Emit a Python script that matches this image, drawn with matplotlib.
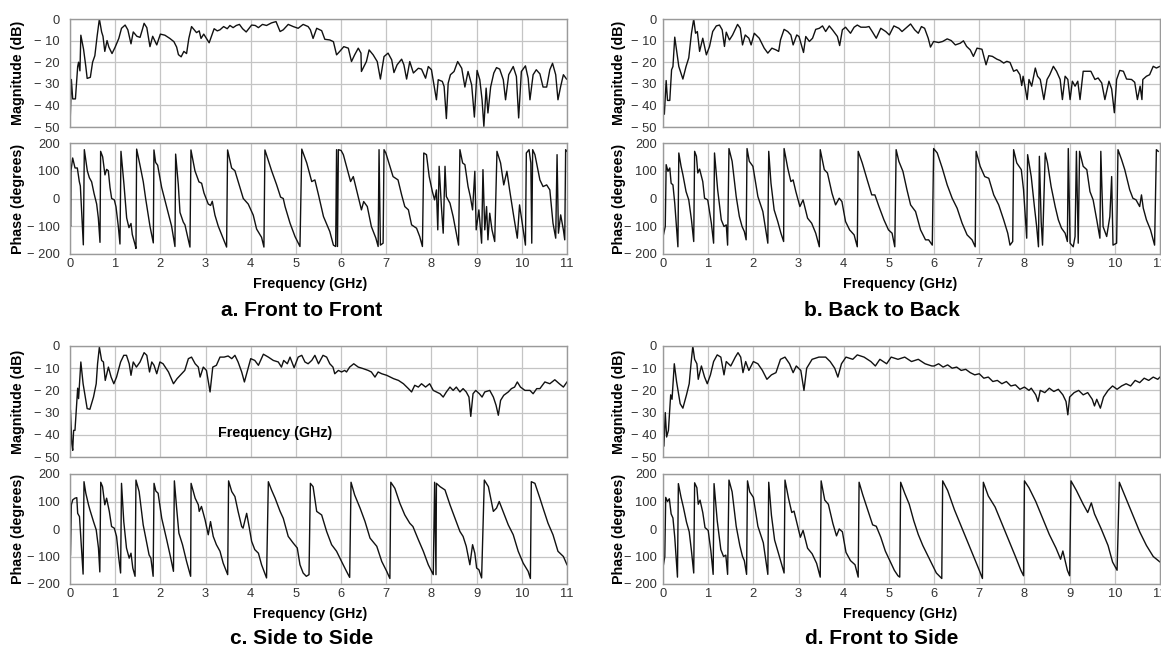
import numpy as np
import matplotlib
matplotlib.use('Agg')
import matplotlib.pyplot as plt

# ---- panel a: front to front ----
a_mag_f = [0.00, 0.03, 0.06, 0.12, 0.17, 0.19, 0.22, 0.24, 0.30, 0.35, 0.38, 0.45, 0.50, 0.55, 0.60, 0.65,
           0.70, 0.73, 0.77, 0.82, 0.86, 0.93, 1.00, 1.08, 1.14, 1.22, 1.28, 1.35, 1.40, 1.48, 1.55, 1.60,
           1.64, 1.70, 1.77, 1.83, 1.92, 2.00, 2.10, 2.21, 2.30, 2.36, 2.40, 2.46, 2.52, 2.58, 2.63, 2.69,
           2.75, 2.80, 2.86, 2.90, 2.96, 3.02, 3.08, 3.19, 3.26, 3.32, 3.40, 3.48, 3.54, 3.61, 3.68, 3.75,
           3.82, 3.90, 4.02, 4.10, 4.17, 4.26, 4.35, 4.46, 4.56, 4.65, 4.72, 4.83, 4.94, 5.05, 5.16, 5.27,
           5.32, 5.38, 5.46, 5.57, 5.64, 5.75, 5.83, 5.90, 5.97, 6.06, 6.16, 6.23, 6.30, 6.38, 6.44, 6.45,
           6.56, 6.62, 6.71, 6.80, 6.87, 6.95, 7.04, 7.12, 7.17, 7.24, 7.34, 7.39, 7.45, 7.52, 7.60, 7.71,
           7.78, 7.87, 7.93, 8.00, 8.06, 8.11, 8.15, 8.24, 8.28, 8.33, 8.37, 8.42, 8.50, 8.58, 8.67, 8.74,
           8.81, 8.89, 8.95, 9.01, 9.07, 9.12, 9.16, 9.21, 9.25, 9.31, 9.38, 9.44, 9.51, 9.59, 9.64, 9.71,
           9.81, 9.88, 9.93, 9.99, 10.08, 10.14, 10.18, 10.25, 10.32, 10.40, 10.47, 10.55, 10.62, 10.68,
           10.75, 10.80, 10.86, 10.92, 10.99]
a_mag_db = [-50, -28, -37, -37, -22, -20, -24, -7.5, -14, -22, -27.5, -27, -20, -17, -8, 0,
            -6, -8, -15, -10, -13, -16, -13, -9, -4.3, -2.8, -5, -11.5, -6, -8, -8.5, -5,
            -2, -4, -12.8, -8, -12, -7, -7.5, -9, -10.5, -13, -16.5, -17.5, -15, -16, -9, -3.5,
            -5, -6.3, -5.5, -9, -7, -9, -11, -4.5, -5.5, -5, -3.5, -4.5, -3, -4, -3, -2.5,
            -4.5, -6, -2.8, -3, -4, -2.5, -3, -1.8, -1.2, -5.8, -5, -2.5, -3.5, -4.3, -2.5, -3.5,
            -5, -9, -4.3, -5.4, -9.4, -9.7, -10.5, -16.6, -15, -12.8, -13.5, -19.7, -16.6, -13.5, -15.8, -24.3,
            -19.7, -14.3, -16.6, -19.7, -27.8, -17.4, -15.8, -18.9, -24.8, -21.2, -18.6, -21.2, -27.8, -19.7, -25, -22.8,
            -23.2, -27.4, -22, -23.5, -31.2, -37.4, -28.1, -28.9, -31.2, -46.1, -29.7, -25.8, -24.3, -19.7, -22.8, -31.5,
            -24.3, -30.5, -45.4, -23.8, -28.1, -37.4, -49.7, -32, -43.5, -31.5, -25, -22.5, -23.2, -28.1, -37.4, -25.8,
            -22, -26.6, -45.8, -24.3, -21.7, -27.4, -37.4, -25.8, -23.5, -25.4, -31.5, -31.5, -23.5, -20.5,
            -25.8, -37.4, -31.2, -25.8, -27.8]

a_ph_f = [0.00, 0.015, 0.022, 0.059, 0.111, 0.162, 0.206, 0.229, 0.295, 0.317, 0.383, 0.428, 0.479, 0.531,
          0.590, 0.627, 0.664, 0.678, 0.723, 0.774, 0.811, 0.848, 0.885, 0.922, 0.981, 1.018, 1.069, 1.106,
          1.128, 1.195, 1.254, 1.305, 1.350, 1.379, 1.438, 1.460, 1.475, 1.549, 1.622, 1.674, 1.733, 1.770,
          1.807, 1.844, 1.858, 1.895, 1.940, 2.028, 2.139, 2.249, 2.323, 2.338, 2.397, 2.434, 2.507, 2.544,
          2.655, 2.677, 2.765, 2.854, 2.913, 2.965, 3.060, 3.112, 3.149, 3.208, 3.282, 3.355, 3.466, 3.488,
          3.577, 3.650, 3.761, 3.835, 3.945, 4.056, 4.130, 4.240, 4.292, 4.314, 4.462, 4.572, 4.661, 4.720,
          4.76, 4.87, 4.98, 5.09, 5.13, 5.24, 5.35, 5.42, 5.50, 5.61, 5.75, 5.83, 5.88, 5.90, 5.92, 5.94,
          6.00, 6.05, 6.12, 6.21, 6.27, 6.36, 6.45, 6.50, 6.58, 6.67, 6.77, 6.82, 6.84, 6.87, 6.93, 6.95,
          6.99, 7.08, 7.15, 7.26, 7.34, 7.41, 7.49, 7.56, 7.67, 7.74, 7.80, 7.83, 7.89, 7.95, 8.02, 8.07,
          8.11, 8.14, 8.17, 8.22, 8.26, 8.30, 8.33, 8.41, 8.48, 8.55, 8.60, 8.63, 8.69, 8.74, 8.81, 8.86,
          8.91, 8.96, 8.99, 9.05, 9.11, 9.14, 9.18, 9.22, 9.25, 9.29, 9.34, 9.40, 9.45, 9.53, 9.60, 9.67,
          9.73, 9.81, 9.90, 9.95, 10.01, 10.08, 10.10, 10.16, 10.20, 10.22, 10.24, 10.29, 10.34, 10.40,
          10.47, 10.55, 10.62, 10.69, 10.75, 10.78, 10.81, 10.86, 10.92, 10.95, 10.97, 11.0]
a_ph_deg = [-95, -100, 100, 146, 110, 110, 61, 45, -167, 176, 100, 75, 60, 19,
            -20, -70, -158, 170, 150, 85, 105, 100, 40, 0, -5, -30, -100, -164,
            170, 50, -70, -105, -90, -130, -165, -180, 178, 120, 60, 0, -60, -100,
            -130, -160, 175, 130, 120, 40, -30, -100, -173, 160, 50, -50, -85, -95,
            -175, 175, 100, 60, 55, 20, -20, -25, -10, -60, -100, -130, -175, 175,
            110, 100, 40, 0, -20, -60, -110, -140, -175, 175, 100, 50, 5, 0,
            -29, -89, -137, -173, 178, 128, 61, 67, 13, -65, -119, -168, -173, 176, -173, 176,
            173, 158, 116, 61, 79, 19, -41, -11, -29, -101, -143, -173, 176, -168, -161, 176,
            164, 116, 79, 67, 13, -29, -41, -95, -107, -137, -173, 164, 158, 79, 25, -5,
            31, -113, 116, -29, -125, 116, 7, -17, -65, -125, -168, 176, 128, 122, 43, 7,
            -41, 98, -113, -41, -161, 104, -113, -29, -149, -53, -113, -155, 170, 128, 49, 98,
            31, -53, -143, -23, -89, -168, 164, 176, 128, -161, 176, 158, 116, 67,
            43, 49, 31, -89, -143, 158, -125, -59, -113, -149, 176, 170]

# ---- panel b: back to back ----
b_mag_f = [0.03, 0.07, 0.10, 0.15, 0.19, 0.22, 0.26, 0.31, 0.35, 0.44, 0.51, 0.57, 0.63, 0.68, 0.72, 0.76,
           0.81, 0.88, 0.96, 1.03, 1.10, 1.18, 1.25, 1.31, 1.36, 1.40, 1.47, 1.54, 1.65, 1.71, 1.76, 1.82,
           1.90, 1.95, 2.02, 2.13, 2.24, 2.32, 2.41, 2.50, 2.56, 2.60, 2.68, 2.76, 2.83, 2.88, 2.96, 3.01,
           3.11, 3.16, 3.24, 3.31, 3.38, 3.46, 3.53, 3.60, 3.68, 3.75, 3.86, 3.91, 3.97, 4.04, 4.15, 4.23,
           4.30, 4.38, 4.49, 4.56, 4.63, 4.72, 4.82, 4.93, 5.01, 5.11, 5.22, 5.29, 5.37, 5.48, 5.57, 5.65,
           5.72, 5.79, 5.87, 5.92, 5.99, 6.10, 6.19, 6.29, 6.38, 6.47, 6.58, 6.65, 6.72, 6.80, 6.87, 6.95,
           7.06, 7.15, 7.21, 7.29, 7.39, 7.46, 7.54, 7.61, 7.68, 7.76, 7.83, 7.90, 7.94, 7.97, 8.01, 8.06,
           8.10, 8.16, 8.24, 8.29, 8.35, 8.43, 8.50, 8.56, 8.64, 8.71, 8.79, 8.84, 8.90, 8.96, 9.01, 9.06,
           9.12, 9.18, 9.23, 9.30, 9.38, 9.47, 9.56, 9.63, 9.71, 9.78, 9.87, 9.93, 9.99, 10.04, 10.11, 10.19,
           10.26, 10.37, 10.44, 10.50, 10.56, 10.60, 10.62, 10.70, 10.77, 10.85, 10.92, 11.0]
b_mag_db = [-44, -28.5, -37.7, -37.7, -23.5, -22, -8.4, -15.8, -22, -27.8, -22, -18, -6.6, 0, -6.6, -5.8,
            -15, -8.9, -16.6, -12.7, -5.8, -3.2, -2.8, -5, -12.7, -6.1, -9.7, -7.4, -2.5, -4.3, -12, -7.4,
            -8.9, -12, -6.6, -8.9, -13.5, -15.8, -13.5, -14.3, -15, -9.7, -4.8, -5.8, -7.4, -12, -7.4, -8.1,
            -15.5, -8.1, -10.4, -8.9, -4.8, -4.3, -3.2, -5.8, -3.2, -5, -8.1, -12.3, -5, -3.8, -6.6, -3.8,
            -2.8, -3.8, -3.8, -3.5, -5.8, -8.9, -4.3, -5.8, -7.4, -3.2, -4.3, -5.8, -4.3, -2.3, -5, -6.6,
            -3.5, -4.3, -8.9, -13, -10.4, -10.9, -10.4, -9.2, -10, -12, -11.2, -10.1, -12.7, -14.3, -17.3, -13.5,
            -14, -21.2, -17, -17.3, -18.6, -19.2, -20.4, -19.6, -20.1, -24.2, -23.5, -25.8, -30.8, -26.5, -31.1, -37.3,
            -28, -31.1, -22.7, -26.5, -28, -37.3, -28, -25.8, -21.9, -24.2, -28, -37.3, -26.5, -28, -37.3, -28.8,
            -31.1, -28.8, -37.3, -24.2, -24.2, -24.2, -28, -27.3, -29.6, -37.3, -28.8, -32.4, -43.4, -28, -23.8, -24.2,
            -27.8, -28, -29.3, -37.3, -31.1, -37.3, -28, -26.5, -25.8, -21.9, -22.7, -21.9]

b_ph_f = [0.01, 0.05, 0.07, 0.11, 0.15, 0.18, 0.22, 0.26, 0.33, 0.35, 0.40, 0.44, 0.51, 0.57, 0.63, 0.68,
          0.70, 0.74, 0.77, 0.81, 0.88, 0.92, 0.99, 1.07, 1.12, 1.14, 1.21, 1.29, 1.35, 1.40, 1.43, 1.46,
          1.53, 1.62, 1.69, 1.75, 1.80, 1.84, 1.86, 1.91, 1.99, 2.10, 2.21, 2.32, 2.34, 2.39, 2.46, 2.54,
          2.61, 2.67, 2.68, 2.76, 2.83, 2.88, 2.94, 3.03, 3.10, 3.20, 3.29, 3.38, 3.46, 3.48, 3.57, 3.64,
          3.74, 3.82, 3.90, 3.96, 4.04, 4.13, 4.23, 4.30, 4.32, 4.41, 4.52, 4.62, 4.69, 4.78, 4.89, 4.99,
          5.07, 5.13, 5.16, 5.22, 5.31, 5.40, 5.48, 5.59, 5.70, 5.81, 5.88, 5.96, 5.99, 6.07, 6.18, 6.29,
          6.40, 6.51, 6.62, 6.73, 6.84, 6.91, 6.93, 7.02, 7.12, 7.21, 7.32, 7.43, 7.54, 7.63, 7.68, 7.74,
          7.76, 7.83, 7.93, 7.98, 8.05, 8.07, 8.15, 8.22, 8.27, 8.31, 8.33, 8.37, 8.40, 8.46, 8.51, 8.59,
          8.68, 8.75, 8.82, 8.90, 8.95, 8.97, 9.01, 9.08, 9.12, 9.15, 9.19, 9.22, 9.30, 9.38, 9.45, 9.52,
          9.60, 9.67, 9.69, 9.74, 9.82, 9.89, 9.93, 9.96, 10.04, 10.07, 10.15, 10.22, 10.33, 10.40, 10.47,
          10.55, 10.59, 10.63, 10.70, 10.79, 10.88, 10.92, 10.96]
b_ph_deg = [-131, -101, 122, 98, 110, 55, 49, -17, -174, 164, 116, 86, 25, -5, -77, -155,
            170, 152, 92, 106, 61, 1, -5, -89, -161, 164, 31, -77, -101, -95, -168, 180,
            134, 7, -65, -101, -119, -149, 180, 134, 116, 7, -47, -161, 170, 55, -41, -83,
            -125, -155, 180, 110, 61, 67, 25, -29, -5, -71, -89, -125, -174, 176, 104, 92,
            19, -23, 1, -11, -83, -113, -131, -174, 170, 128, 67, 13, 13, -29, -77, -113,
            -125, -174, 176, 134, 98, 31, -23, -47, -113, -149, -149, -168, 180, 164, 110, 49,
            1, -35, -89, -131, -149, -174, 170, 116, 79, 73, 13, -23, -77, -125, -168, -155,
            176, 128, 104, 31, -143, 158, 79, -29, -101, -174, 152, -83, -168, 164, 128, 43,
            -29, -77, -107, -125, -155, 180, -161, -174, -137, 170, -161, 170, 116, 104, 25, -5,
            -77, -143, 170, -101, -137, -65, 79, -168, -161, 176, 140, 104, 31, 1, -5,
            -29, 13, -35, -77, -113, -168, 176, 170]

# ---- panel c: side to side ----
c_mag_f = [0.01, 0.04, 0.06, 0.08, 0.11, 0.17, 0.19, 0.24, 0.29, 0.38, 0.44, 0.52, 0.58, 0.61, 0.65, 0.70,
           0.74, 0.78, 0.85, 0.91, 0.97, 1.03, 1.12, 1.19, 1.25, 1.31, 1.35, 1.40, 1.47, 1.55, 1.64, 1.70,
           1.76, 1.81, 1.86, 1.92, 1.99, 2.06, 2.18, 2.29, 2.37, 2.47, 2.54, 2.62, 2.69, 2.77, 2.84, 2.88,
           2.95, 3.02, 3.10, 3.16, 3.24, 3.32, 3.41, 3.50, 3.58, 3.65, 3.72, 3.80, 3.86, 3.91, 4.00, 4.09,
           4.17, 4.28, 4.39, 4.50, 4.61, 4.68, 4.73, 4.81, 4.87, 4.96, 5.05, 5.13, 5.20, 5.27, 5.35, 5.42,
           5.50, 5.60, 5.68, 5.75, 5.82, 5.86, 5.94, 6.01, 6.08, 6.12, 6.19, 6.28, 6.38, 6.49, 6.60, 6.67,
           6.75, 6.82, 6.90, 7.01, 7.16, 7.27, 7.38, 7.49, 7.56, 7.63, 7.71, 7.78, 7.87, 7.96, 8.04, 8.11,
           8.19, 8.26, 8.33, 8.41, 8.48, 8.55, 8.63, 8.70, 8.77, 8.83, 8.87, 8.92, 8.98, 9.06, 9.12, 9.18,
           9.29, 9.37, 9.43, 9.48, 9.53, 9.60, 9.70, 9.77, 9.84, 9.90, 9.97, 10.07, 10.18, 10.25, 10.33,
           10.40, 10.51, 10.62, 10.73, 10.83, 10.92, 11.0]
c_mag_db = [-29, -44, -47, -38, -38, -19, -23.7, -7.2, -17, -28.2, -28.5, -23, -17, -8, -0.5, -6.5,
            -7.2, -15.5, -9.5, -14, -17, -14, -7.2, -4.2, -4.2, -8, -13.2, -7.2, -9.5, -7.2, -3, -4.2,
            -11.7, -7.2, -8.7, -12.5, -7.2, -8, -11.7, -17, -14.7, -12.5, -11, -5.7, -5, -8, -9.5, -14,
            -9.5, -11, -20.7, -9.5, -8.7, -5, -5, -4.5, -5.7, -4.2, -7.2, -11.7, -16.2, -12.5, -5.7, -6.5,
            -8.7, -3.7, -5, -6.5, -7.2, -9.5, -6.5, -8, -5, -9.8, -5, -4.2, -7.2, -8, -6.5, -4.2,
            -8, -4.2, -5, -8, -9.5, -12.5, -11, -11.7, -11, -11.7, -9.5, -8, -9.5, -10.2, -11, -11.7,
            -14, -11.7, -12.5, -13.2, -14.7, -15.5, -17, -19.2, -20.7, -17.7, -18.5, -17, -18.5, -17, -20, -20.7,
            -21.5, -23, -20.7, -18.5, -20, -18.5, -20.7, -19.2, -20.7, -23, -31.7, -21.5, -20, -21.5, -23, -20.7,
            -20, -23, -26.7, -31.2, -24.5, -22.2, -20.7, -19.2, -18.5, -16.2, -18.5, -20, -20, -21.5, -19.2,
            -19.2, -16.2, -17, -15.2, -17, -18.5, -16.2]

c_ph_f = [0.01, 0.03, 0.06, 0.11, 0.15, 0.17, 0.21, 0.24, 0.29, 0.31, 0.35, 0.41, 0.44, 0.52, 0.58, 0.63,
          0.66, 0.68, 0.72, 0.77, 0.81, 0.87, 0.92, 0.98, 1.03, 1.08, 1.12, 1.14, 1.19, 1.25, 1.31, 1.35,
          1.39, 1.44, 1.46, 1.53, 1.62, 1.70, 1.75, 1.79, 1.84, 1.86, 1.90, 1.95, 2.03, 2.14, 2.23, 2.29,
          2.31, 2.36, 2.41, 2.49, 2.58, 2.67, 2.68, 2.77, 2.84, 2.86, 2.91, 2.99, 3.06, 3.11, 3.17, 3.24,
          3.32, 3.39, 3.49, 3.51, 3.58, 3.65, 3.72, 3.80, 3.83, 3.91, 3.97, 4.02, 4.09, 4.17, 4.24, 4.35,
          4.39, 4.46, 4.54, 4.65, 4.72, 4.83, 4.94, 5.03, 5.09, 5.16, 5.23, 5.29, 5.32, 5.38, 5.46, 5.57,
          5.68, 5.79, 5.90, 6.01, 6.12, 6.19, 6.22, 6.30, 6.42, 6.53, 6.64, 6.79, 6.90, 7.01, 7.08, 7.10,
          7.19, 7.30, 7.41, 7.52, 7.59, 7.71, 7.82, 7.93, 8.04, 8.07, 8.10, 8.11, 8.19, 8.30, 8.41, 8.52,
          8.63, 8.70, 8.77, 8.85, 8.91, 8.96, 9.00, 9.05, 9.11, 9.17, 9.26, 9.37, 9.44, 9.50, 9.57, 9.70,
          9.81, 9.92, 10.03, 10.14, 10.19, 10.21, 10.29, 10.40, 10.47, 10.58, 10.69, 10.80, 10.92, 11.0]
c_ph_deg = [-94, 88, 106, 112, 114, 57, 45, -33, -164, 172, 130, 88, 70, 27, -3, -69,
            -156, 170, 154, 88, 112, 64, 9, 3, -27, -106, -160, 166, 27, -69, -106, -88,
            -142, -172, 178, 136, 15, -51, -94, -106, -172, 166, 138, 130, 39, -39, -106, -154,
            175, 76, -15, -57, -118, -172, 166, 112, 88, 64, 82, 33, -21, 27, -27, -57,
            -81, -124, -166, 175, 136, 118, 64, 9, 3, 57, 3, -45, -75, -88, -130, -178,
            172, 142, 112, 64, 39, -27, -51, -69, -130, -160, -172, -166, 166, 154, 64, 51,
            -9, -57, -81, -118, -154, -176, 170, 124, 76, 27, -33, -63, -118, -154, -180, 170,
            148, 94, 51, 21, 9, -39, -81, -130, -166, 170, -166, 166, 154, 142, 88, 39,
            -9, -27, -63, -130, -57, -88, -142, -148, -178, 178, 154, 64, 76, 100, 70, 15,
            -21, -81, -124, -154, -180, 172, 166, 112, 76, 21, -21, -81, -100, -130]

# ---- panel d: front to side ----
d_mag_f = [0.02, 0.05, 0.08, 0.12, 0.17, 0.20, 0.25, 0.30, 0.38, 0.44, 0.52, 0.58, 0.62, 0.66, 0.70, 0.75,
           0.78, 0.85, 0.92, 0.98, 1.05, 1.12, 1.20, 1.28, 1.35, 1.40, 1.50, 1.60, 1.66, 1.72, 1.77, 1.83,
           1.90, 2.00, 2.10, 2.20, 2.30, 2.40, 2.50, 2.60, 2.70, 2.80, 2.88, 2.95, 3.05, 3.12, 3.18, 3.30,
           3.45, 3.60, 3.70, 3.80, 3.87, 3.95, 4.05, 4.20, 4.30, 4.45, 4.60, 4.70, 4.80, 4.95, 5.05, 5.20,
           5.35, 5.50, 5.65, 5.80, 5.95, 6.00, 6.10, 6.20, 6.30, 6.40, 6.50, 6.60, 6.70, 6.80, 6.90, 7.00,
           7.10, 7.20, 7.30, 7.40, 7.50, 7.60, 7.70, 7.80, 7.90, 8.00, 8.10, 8.15, 8.25, 8.30, 8.35, 8.45,
           8.55, 8.65, 8.75, 8.85, 8.92, 8.96, 9.00, 9.10, 9.20, 9.30, 9.40, 9.50, 9.55, 9.60, 9.68, 9.75,
           9.85, 9.95, 10.05, 10.15, 10.25, 10.35, 10.45, 10.55, 10.65, 10.75, 10.85, 10.95, 11.0]
d_mag_db = [-45, -30, -41, -38, -22, -24, -8, -16, -26, -28, -22, -17, -8, 0, -6, -8,
            -15, -9, -14, -17, -13, -7, -4, -5, -13, -7, -9, -5, -3, -5, -12, -7,
            -11, -7, -8, -11, -15, -13, -12, -6, -5, -8, -12, -9, -11, -20, -10, -6,
            -5, -5, -7, -10, -14, -8, -5, -6, -4, -5, -7, -9, -6, -8, -5, -6,
            -5, -7, -6, -8, -9, -9, -8, -9.5, -8.5, -10, -9.5, -11, -10.5, -12, -13, -12.5,
            -14.5, -14, -16, -15.5, -17, -16, -18, -17.5, -19.5, -18.5, -20, -19, -22, -25, -20, -21,
            -19, -20.5, -19.5, -22, -25, -31, -23, -21, -20, -22, -21, -24, -27, -24, -28, -23,
            -20, -18, -19.5, -18, -17, -18, -15.5, -16.5, -14.5, -15.5, -14, -15, -14]

d_ph_f = [0.01, 0.04, 0.06, 0.10, 0.14, 0.18, 0.22, 0.26, 0.32, 0.34, 0.40, 0.45, 0.52, 0.58, 0.63, 0.68,
          0.70, 0.75, 0.78, 0.82, 0.88, 0.93, 1.00, 1.06, 1.11, 1.13, 1.20, 1.28, 1.34, 1.39, 1.43, 1.46,
          1.53, 1.62, 1.70, 1.76, 1.80, 1.85, 1.87, 1.92, 2.00, 2.10, 2.22, 2.32, 2.34, 2.40, 2.47, 2.55,
          2.62, 2.68, 2.70, 2.78, 2.85, 2.90, 2.96, 3.04, 3.10, 3.20, 3.30, 3.40, 3.48, 3.50, 3.58, 3.66,
          3.76, 3.84, 3.90, 3.97, 4.05, 4.15, 4.25, 4.32, 4.34, 4.42, 4.54, 4.64, 4.72, 4.82, 4.92, 5.02,
          5.12, 5.20, 5.24, 5.26, 5.35, 5.45, 5.55, 5.65, 5.75, 5.90, 6.05, 6.17, 6.19, 6.30, 6.45, 6.60,
          6.75, 6.90, 7.00, 7.07, 7.09, 7.20, 7.35, 7.50, 7.65, 7.80, 7.92, 7.98, 8.00, 8.10, 8.25, 8.40,
          8.55, 8.70, 8.80, 8.85, 8.95, 9.00, 9.03, 9.15, 9.30, 9.40, 9.48, 9.55, 9.70, 9.85, 9.95, 10.05,
          10.10, 10.25, 10.40, 10.55, 10.70, 10.85, 11.0]
d_ph_deg = [-130, -100, 115, 100, 110, 55, 40, -30, -175, 165, 115, 80, 25, -10, -80, -160,
            168, 150, 90, 105, 60, 5, -5, -80, -165, 165, 30, -75, -100, -95, -165, 178,
            135, 10, -60, -100, -115, -165, 175, 135, 115, 10, -50, -165, 170, 50, -40, -85,
            -125, -160, 178, 110, 60, 65, 25, -30, -5, -70, -90, -125, -175, 175, 105, 90,
            20, -25, 0, -10, -85, -115, -130, -175, 170, 125, 65, 15, 10, -30, -80, -115,
            -150, -170, -175, 170, 130, 90, 30, -20, -60, -110, -160, -180, 175, 140, 70, 10,
            -50, -110, -150, -180, 170, 120, 80, 20, -40, -100, -150, -170, 175, 150, 100, 40,
            -20, -70, -110, -80, -150, -170, 175, 140, 90, 60, 95, 55, 0, -60, -120, -150,
            170, 110, 50, -10, -60, -100, -120]

freq_ticks = list(range(12))
mag_ticks = [0, -10, -20, -30, -40, -50]
mag_labels = ['0', '\u2212 10', '\u2212 20', '\u2212 30', '\u2212 40', '\u2212 50']
ph_ticks = [200, 100, 0, -100, -200]
ph_labels = ['200', '100', '0', '\u2212 100', '\u2212 200']

panels = [
    ('a. Front to Front', a_mag_f, a_mag_db, a_ph_f, a_ph_deg),
    ('b. Back to Back', b_mag_f, b_mag_db, b_ph_f, b_ph_deg),
    ('c. Side to Side', c_mag_f, c_mag_db, c_ph_f, c_ph_deg),
    ('d. Front to Side', d_mag_f, d_mag_db, d_ph_f, d_ph_deg),
]

plt.rcParams['font.family'] = ['Liberation Sans', 'DejaVu Sans']

W, H = 1161.0, 659.0
fig = plt.figure(figsize=(W / 100, H / 100), dpi=100)

# pixel layout: left, right, mag top/bottom, phase top/bottom, tick pad,
# ylabel x, xlabel x/y, title x/y
layout = [
    (70, 567, 19, 127, 143, 254, 7.5, 18, 310, 284, 302, 311),
    (663, 1160, 19, 127, 143, 254, 4.5, 619, 900, 284, 882, 311),
    (70, 567, 346, 457, 474, 584, 7.5, 18, 310, 614, 302, 639),
    (663, 1160, 346, 457, 474, 584, 4.5, 619, 900, 614, 882, 639),
]


def style(ax, pad):
    ax.set_xlim(0, 11)
    ax.set_xticks(freq_ticks)
    ax.grid(True, color='#c4c4c4', linewidth=0.9)
    ax.set_axisbelow(True)
    for s in ax.spines.values():
        s.set_color('#9a9a9a')
        s.set_linewidth(1.0)
    ax.tick_params(length=0, labelsize=9.3, labelcolor='#333333', pad=pad)


for (title, mf, mv, pf, pv), (l, r, mt, mb, pt, pb, pad, lx, xlx, xly, tx, ty) in zip(panels, layout):
    axm = fig.add_axes([l / W, 1 - mb / H, (r - l) / W, (mb - mt) / H])
    axp = fig.add_axes([l / W, 1 - pb / H, (r - l) / W, (pb - pt) / H])

    axm.plot(mf, mv, color='#111111', linewidth=1.0)
    style(axm, pad)
    axm.set_ylim(-50, 0)
    axm.set_yticks(mag_ticks)
    axm.set_yticklabels(mag_labels)
    axm.set_xticklabels([])

    axp.plot(pf, pv, color='#111111', linewidth=1.0)
    style(axp, pad)
    axp.set_ylim(-200, 200)
    axp.set_yticks(ph_ticks)
    axp.set_yticklabels(ph_labels)
    axp.tick_params(axis='x', pad=3)

    fig.text(lx / W, 1 - (mt + mb) / 2 / H, 'Magnitude (dB)', rotation=90,
             ha='center', va='center', fontsize=10.3, fontweight='bold')
    fig.text(lx / W, 1 - (pt + pb) / 2 / H, 'Phase (degrees)', rotation=90,
             ha='center', va='center', fontsize=10.3, fontweight='bold')
    fig.text(xlx / W, 1 - xly / H, 'Frequency (GHz)', ha='center', va='center',
             fontsize=10.3, fontweight='bold')
    fig.text(tx / W, 1 - ty / H, title, ha='center', va='center',
             fontsize=15, fontweight='bold')

# stray label inside the side-to-side magnitude plot
fig.text(275 / W, 1 - 433 / H, 'Frequency (GHz)', ha='center', va='center',
         fontsize=10.3, fontweight='bold')

fig.savefig('out.png', dpi=100)
